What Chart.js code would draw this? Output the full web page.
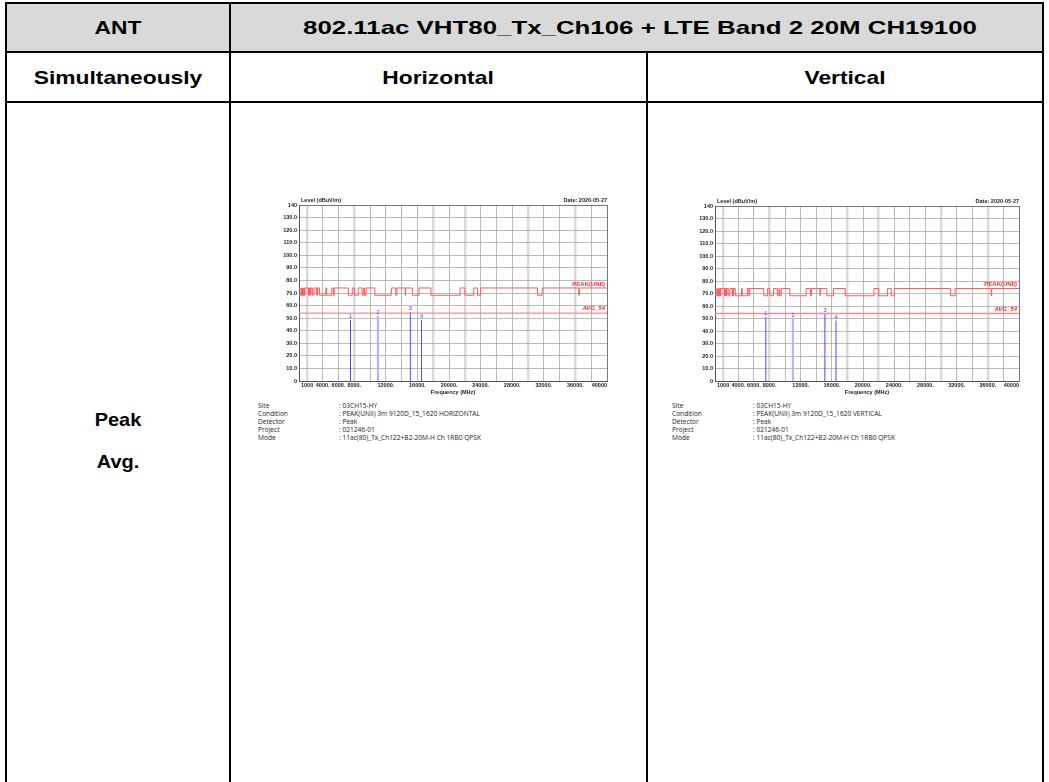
<!DOCTYPE html>
<html>
<head>
<meta charset="utf-8">
<script src="https://cdn.jsdelivr.net/npm/chart.js@4.4.1/dist/chart.umd.min.js"></script>
<style>
  html,body{margin:0;padding:0;background:#fff;}
  body{width:1049px;height:782px;position:relative;overflow:hidden;font-family:"Liberation Sans",Arial,sans-serif;}
  .ln{position:absolute;background:#000;}
  .hdr{position:absolute;background:#d9d9d9;}
  .t{position:absolute;font-weight:bold;font-size:19px;color:#000;text-align:center;white-space:nowrap;transform:translate(-50%,-50%) scaleX(1.2);}
  canvas{position:absolute;}
  .info{position:absolute;font-family:"Open Sans","Noto Sans",sans-serif;font-size:6.6px;color:#222;line-height:8px;white-space:nowrap;}
  .info div{height:8px;position:relative;}
  .info span.v{position:absolute;left:81px;}
</style>
</head>
<body>
<div class="hdr" style="left:7px;top:4px;width:1035px;height:47px;"></div>
<!-- horizontal rules -->
<div class="ln" style="left:5px;top:2px;width:1039px;height:2px;"></div>
<div class="ln" style="left:5px;top:51px;width:1039px;height:2px;"></div>
<div class="ln" style="left:5px;top:101px;width:1039px;height:2px;"></div>
<!-- vertical rules -->
<div class="ln" style="left:5px;top:2px;width:2px;height:780px;"></div>
<div class="ln" style="left:229px;top:2px;width:2px;height:780px;"></div>
<div class="ln" style="left:646px;top:52px;width:2px;height:730px;"></div>
<div class="ln" style="left:1042px;top:2px;width:2px;height:780px;"></div>

<div class="t" style="left:118px;top:28px;">ANT</div>
<div class="t" style="left:640px;top:28px;transform:translate(-50%,-50%) scaleX(1.36);">802.11ac VHT80_Tx_Ch106 + LTE Band 2 20M CH19100</div>
<div class="t" style="left:118px;top:78px;">Simultaneously</div>
<div class="t" style="left:438px;top:78px;">Horizontal</div>
<div class="t" style="left:845px;top:78px;">Vertical</div>
<div class="t" style="left:118px;top:420px;transform:translate(-50%,-50%) scaleX(1.05);">Peak</div>
<div class="t" style="left:118px;top:462px;transform:translate(-50%,-50%) scaleX(1.05);">Avg.</div>

<canvas id="cH" width="360" height="210" style="left:255px;top:190px;"></canvas>
<canvas id="cV" width="356" height="209" style="left:671px;top:191px;"></canvas>

<div class="info" id="infoH" style="left:258px;top:402px;"></div>
<div class="info" id="infoV" style="left:672px;top:402px;"></div>

<script>
// ---------------- DATA ----------------
// limit line breakpoints (MHz) and level (dBuV/m) held until the next breakpoint
const limitFreq = [1000,1240,1300,1427,1435,1626.5,1645.5,1646.5,1660,1710,1718.8,1722.2,2200,2300,2310,2390,2483.5,2500,2690,2900,3260,3267,3332,3339,3345.8,3358,3600,4400,4500,5150,5350,5460,7250,7750,8025,8500,9000,9200,9300,9500,10600,12700,13250,13400,14470,14500,15350,16200,17700,21400,22010,23120,23600,24000,31200,31800,36430,36500,38600,40000];
const limitLevel = [74,68.2,74,68.2,74,68.2,74,68.2,74,68.2,74,68.2,74,68.2,74,68.2,74,68.2,74,68.2,74,68.2,74,68.2,74,68.2,74,68.2,74,68.2,74,68.2,74,68.2,74,68.2,74,68.2,74,68.2,74,68.2,74,68.2,74,68.2,74,68.2,74,68.2,74,68.2,74,68.2,74,68.2,74,68.2,74,74];
const avgLimit = 54;
const peakLimitTop = 74;
const markerLabels = ["1","2","3","4"];
const markerFreq = [7520, 11000, 15100, 16520];
const horizontalLevels = [48.5, 51.7, 54.9, 48.5];
const verticalLevels = [51.1, 49.8, 53.8, 48.5];
const yTickValues = [0,10,20,30,40,50,60,70,80,90,100,110,120,130,140];
const xGridValues = [1000,2000,4000,6000,8000,10000,12000,14000,16000,18000,20000,22000,24000,26000,28000,30000,32000,34000,36000,38000,40000];
const xLightGrid = [2000,8000,18000,22000,30000,36000];
const xTickValues = [1000,4000,6000,8000,12000,16000,20000,24000,28000,32000,36000,40000];
const xTickLabels = ["1000","4000.","6000.","8000.","12000.","16000.","20000.","24000.","28000.","32000.","36000.","40000"];
const infoLabels = ["Site","Condition","Detector","Project","Mode"];
const infoH = [": 03CH15-HY",": PEAK(UNII) 3m 9120D_15_1620 HORIZONTAL",": Peak",": 021246-01",": 11ac(80)_Tx_Ch122+B2-20M-H Ch 1RB0 QPSK"];
const infoV = [": 03CH15-HY",": PEAK(UNII) 3m 9120D_15_1620 VERTICAL",": Peak",": 021246-01",": 11ac(80)_Tx_Ch122+B2-20M-H Ch 1RB0 QPSK"];

// ---------------- INFO TEXT ----------------
function fillInfo(id, vals){
  const el = document.getElementById(id);
  infoLabels.forEach((l,i)=>{
    const d = document.createElement('div');
    d.innerHTML = '<span>'+l+'</span><span class="v">'+vals[i]+'</span>';
    el.appendChild(d);
  });
}
fillInfo('infoH', infoH);
fillInfo('infoV', infoV);

// ---------------- CHARTS ----------------
const FONT = '"Liberation Sans", Arial, sans-serif';
const extras = {
  id:'extras',
  afterDraw(chart){
    const ctx = chart.ctx, a = chart.chartArea, xs = chart.scales.x, ys = chart.scales.y;
    ctx.save();
    ctx.fillStyle = '#1a1a2a';
    ctx.font = 'bold 5.5px ' + FONT;
    ctx.textBaseline = 'middle';
    ctx.textAlign = 'left';
    ctx.fillText('Level (dBuV/m)', a.left + 2, a.top - 5);
    ctx.textAlign = 'right';
    ctx.fillText('Date: 2020-05-27', a.right, a.top - 5);
    // x tick labels
    xTickValues.forEach((v,i)=>{
      const x = xs.getPixelForValue(v);
      if (i === 0){ ctx.textAlign = 'left'; ctx.fillText(xTickLabels[i], x + 2, a.bottom + 4); }
      else if (i === xTickValues.length - 1){ ctx.textAlign = 'right'; ctx.fillText(xTickLabels[i], x, a.bottom + 4); }
      else { ctx.textAlign = 'center'; ctx.fillText(xTickLabels[i], x, a.bottom + 4); }
    });
    ctx.textAlign = 'center';
    ctx.fillText('Frequency (MHz)', (a.left + a.right) / 2, a.bottom + 11);
    // marker numbers
    ctx.fillStyle = '#3a3aff';
    ctx.font = '5.5px ' + FONT;
    ctx.textBaseline = 'bottom';
    chart.data.datasets.forEach((ds, di)=>{
      if (ds.markerIndex === undefined) return;
      const pt = chart.getDatasetMeta(di).data[1];
      ctx.fillText(markerLabels[ds.markerIndex], pt.x, pt.y - 0.5);
    });
    // limit labels
    ctx.fillStyle = '#ff2a2a';
    ctx.textAlign = 'right';
    ctx.font = 'bold 6px ' + FONT;
    ctx.fillText('PEAK(UNII)', a.right - 2, ys.getPixelForValue(peakLimitTop) - 1);
    ctx.font = 'italic bold 6px ' + FONT;
    ctx.fillText('AVG_54', a.right - 2, ys.getPixelForValue(avgLimit) - 1.5);
    ctx.restore();
  }
};

function makeChart(id, levels){
  const datasets = [
    { data: limitFreq.map((f,i)=>({x:f, y:limitLevel[i]})), borderColor:'#ff5a5a', borderWidth:1, stepped:'after', pointRadius:0 },
    { data: [{x:limitFreq[0], y:avgLimit},{x:limitFreq[limitFreq.length-1], y:avgLimit}], borderColor:'#ff8a8a', borderWidth:1.3, pointRadius:0 }
  ];
  markerFreq.forEach((f,i)=>{
    datasets.push({
      data:[{x:f,y:0},{x:f,y:levels[i]}],
      borderColor: i===1 ? '#b4b4ff' : '#4a4aff',
      borderWidth: i===1 ? 2.2 : 1,
      pointRadius:0,
      markerIndex:i
    });
  });
  return new Chart(document.getElementById(id), {
    type:'line',
    data:{ datasets },
    options:{
      responsive:false,
      animation:false,
      devicePixelRatio:1,
      plugins:{ legend:{display:false}, tooltip:{enabled:false} },
      layout:{ padding:{ left:0, right:8, top:15, bottom:0 } },
      scales:{
        x:{
          type:'linear', min:1000, max:40000,
          afterBuildTicks(s){ s.ticks = xGridValues.map(v=>({value:v})); },
          afterFit(s){ s.height = 19; },
          ticks:{ display:false },
          grid:{
            drawTicks:false,
            color(c){ const v=c.tick.value; if(v===1000||v===40000) return '#555'; return xLightGrid.includes(v)?'#dadada':'#a8a8a8'; },
            lineWidth(c){ const v=c.tick.value; return xLightGrid.includes(v)?2.5:0.8; }
          },
          border:{ color:'#555', width:1 }
        },
        y:{
          type:'linear', min:0, max:140,
          afterBuildTicks(s){ s.ticks = yTickValues.map(v=>({value:v})); },
          afterFit(s){ s.width = 44; },
          ticks:{
            padding:2,
            color:'#1a1a2a',
            font:{ size:5.5, weight:'bold', family:FONT },
            callback(v){ return (v===0||v===140) ? String(v) : v.toFixed(1); }
          },
          grid:{
            drawTicks:false,
            color(c){ const v=c.tick.value; return (v===0||v===140)?'#555':'#a8a8a8'; },
            lineWidth:0.8
          },
          border:{ color:'#555', width:1 }
        }
      }
    },
    plugins:[extras]
  });
}
makeChart('cH', horizontalLevels);
makeChart('cV', verticalLevels);
</script>
</body>
</html>
